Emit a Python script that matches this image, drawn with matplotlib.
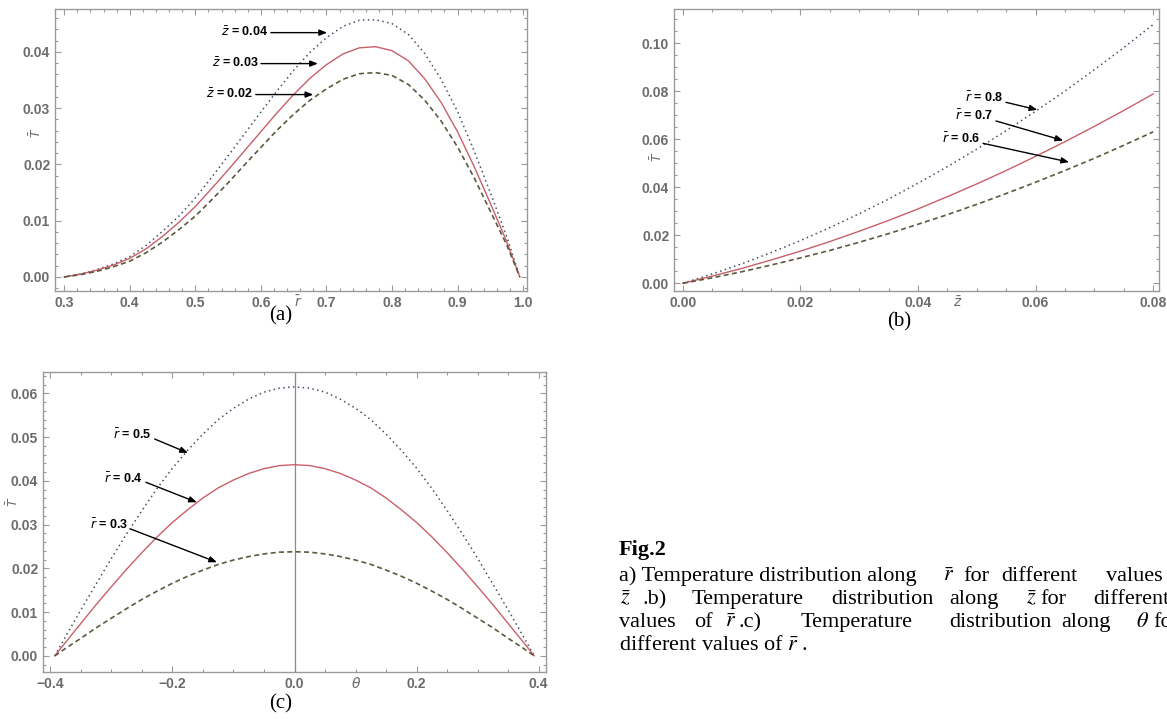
import matplotlib
matplotlib.use('Agg')
import matplotlib.pyplot as plt
from matplotlib.ticker import AutoMinorLocator, MultipleLocator

# ---- datos ----
# (a) T vs r para distintos z
r_a = [0.300, 0.325, 0.350, 0.375, 0.400, 0.425, 0.450, 0.475, 0.500, 0.525, 0.550, 0.575,
       0.600, 0.625, 0.650, 0.675, 0.700, 0.725, 0.750, 0.775, 0.800, 0.825, 0.850, 0.875,
       0.900, 0.925, 0.950, 0.975, 0.995]
T_z004 = [0.0, 0.0005, 0.0013, 0.0023, 0.0036, 0.0056, 0.0081, 0.0108, 0.0140, 0.0177, 0.0215, 0.0254,
          0.0293, 0.0331, 0.0367, 0.0399, 0.0425, 0.0445, 0.0456, 0.0457, 0.0450, 0.0431, 0.0397, 0.0351,
          0.0294, 0.0225, 0.0150, 0.0072, 0.0]
T_z003 = [0.0, 0.0005, 0.0012, 0.0021, 0.0033, 0.0050, 0.0072, 0.0097, 0.0125, 0.0157, 0.0190, 0.0224,
          0.0258, 0.0292, 0.0324, 0.0353, 0.0377, 0.0396, 0.0407, 0.0409, 0.0402, 0.0384, 0.0352, 0.0310,
          0.0258, 0.0197, 0.0131, 0.0063, 0.0]
T_z002 = [0.0, 0.0004, 0.0010, 0.0018, 0.0028, 0.0043, 0.0062, 0.0084, 0.0108, 0.0137, 0.0167, 0.0199,
          0.0230, 0.0261, 0.0289, 0.0314, 0.0334, 0.0351, 0.0361, 0.0363, 0.0358, 0.0342, 0.0314, 0.0277,
          0.0231, 0.0177, 0.0117, 0.0057, 0.0]

# (b) T vs z para distintos r
z_b = [0.0, 0.005, 0.01, 0.015, 0.02, 0.025, 0.03, 0.035, 0.04, 0.045, 0.05, 0.055,
       0.06, 0.065, 0.07, 0.075, 0.08]
T_r08 = [0.0, 0.0039, 0.0081, 0.0128, 0.0178, 0.0232, 0.0290, 0.0351, 0.0417, 0.0486, 0.0559, 0.0636,
         0.0717, 0.0801, 0.0890, 0.0982, 0.1078]
T_r07 = [0.0, 0.0030, 0.0062, 0.0097, 0.0134, 0.0174, 0.0217, 0.0262, 0.0310, 0.0361, 0.0414, 0.0470,
         0.0529, 0.0590, 0.0654, 0.0720, 0.0789]
T_r06 = [0.0, 0.0023, 0.0048, 0.0076, 0.0106, 0.0137, 0.0171, 0.0207, 0.0246, 0.0286, 0.0329, 0.0374,
         0.0421, 0.0470, 0.0521, 0.0575, 0.0631]

# (c) T vs theta para distintos r
th_c = [-0.3927, -0.375, -0.35, -0.325, -0.30, -0.275, -0.25, -0.225, -0.20, -0.175, -0.15,
        -0.125, -0.10, -0.075, -0.05, -0.025, 0.0, 0.025, 0.05, 0.075, 0.10, 0.125, 0.15,
        0.175, 0.20, 0.225, 0.25, 0.275, 0.30, 0.325, 0.35, 0.375, 0.3927]
T_r05 = [0.0, 0.0044, 0.0105, 0.0164, 0.0223, 0.0279, 0.0332, 0.0383, 0.0429, 0.0470, 0.0507,
         0.0540, 0.0566, 0.0587, 0.0603, 0.0612, 0.0615, 0.0612, 0.0603, 0.0587, 0.0566, 0.0540, 0.0507,
         0.0470, 0.0429, 0.0383, 0.0332, 0.0279, 0.0223, 0.0164, 0.0105, 0.0044, 0.0]
T_r04 = [0.0, 0.0031, 0.0074, 0.0117, 0.0158, 0.0198, 0.0236, 0.0272, 0.0305, 0.0334, 0.0361,
         0.0384, 0.0402, 0.0417, 0.0428, 0.0435, 0.0437, 0.0435, 0.0428, 0.0417, 0.0402, 0.0384, 0.0361,
         0.0334, 0.0305, 0.0272, 0.0236, 0.0198, 0.0158, 0.0117, 0.0074, 0.0031, 0.0]
T_r03 = [0.0, 0.0017, 0.0040, 0.0064, 0.0086, 0.0108, 0.0129, 0.0148, 0.0166, 0.0182, 0.0196,
         0.0209, 0.0219, 0.0227, 0.0233, 0.0237, 0.0238, 0.0237, 0.0233, 0.0227, 0.0219, 0.0209, 0.0196,
         0.0182, 0.0166, 0.0148, 0.0129, 0.0108, 0.0086, 0.0064, 0.0040, 0.0017, 0.0]

W, H = 1167, 719
fig = plt.figure(figsize=(W / 100, H / 100), dpi=100)

c_dot = '#46506a'
c_sol = '#c8606a'
c_dash = '#5c5a3e'
c_frame = '#9a9a9a'
c_lab = '#6b6b6b'


def caja(x0, y0, x1, y1):
    # pixeles -> fraccion de figura
    return [x0 / W, 1 - y1 / H, (x1 - x0) / W, (y1 - y0) / H]


def px(x, y):
    return x / W, 1 - y / H


def estilo(ax, xmaj, xmin_n, ymaj, ymin_n, xfmt, yfmt):
    for s in ax.spines.values():
        s.set_color(c_frame)
        s.set_linewidth(1.0)
    ax.xaxis.set_major_locator(MultipleLocator(xmaj))
    ax.yaxis.set_major_locator(MultipleLocator(ymaj))
    ax.xaxis.set_minor_locator(AutoMinorLocator(xmin_n))
    ax.yaxis.set_minor_locator(AutoMinorLocator(ymin_n))
    ax.tick_params(which='both', direction='in', top=True, right=True, color=c_frame, width=0.8)
    ax.tick_params(which='major', length=4.5, pad=3.5)
    ax.tick_params(which='minor', length=2.5)
    ax.xaxis.set_major_formatter(plt.FuncFormatter(lambda v, p: xfmt.format(v + 0.0).replace('-', '\u2212')))
    ax.yaxis.set_major_formatter(plt.FuncFormatter(lambda v, p: yfmt.format(v + 0.0)))
    for lab in ax.get_xticklabels() + ax.get_yticklabels():
        lab.set_fontfamily('Liberation Sans')
        lab.set_fontweight('bold')
        lab.set_fontsize(10)
        lab.set_color(c_lab)


def tres_curvas(ax, x, y1, y2, y3):
    ax.plot(x, y1, color=c_dot, lw=1.1, linestyle=(0, (1, 2.2)))
    ax.plot(x, y2, color=c_sol, lw=1.0)
    ax.plot(x, y3, color=c_dash, lw=1.2, linestyle=(0, (3, 2)))


def flecha(ax, txt, tip, pos, rel=(1, 0.5)):
    ax.annotate(txt, xy=tip, xytext=pos, ha='right', va='center',
                fontsize=9, fontweight='bold', family='Liberation Sans', math_fontfamily='dejavusans',
                arrowprops=dict(arrowstyle='-|>,head_length=0.5,head_width=0.2', color='black',
                                lw=1.0, shrinkA=0, shrinkB=0, relpos=rel))


def etiquetas(ax, xl, xpos, ypos):
    ax.text(xpos[0], xpos[1], xl, transform=ax.transAxes, ha='center', va='center',
            fontsize=10, color=c_lab, math_fontfamily='dejavusans')
    ax.text(ypos[0], ypos[1], r'$\bar{T}$', transform=ax.transAxes, ha='center', va='center',
            fontsize=9, color=c_lab, rotation=90, math_fontfamily='dejavusans')


# ---- (a) ----
ax1 = fig.add_axes(caja(55, 9, 527, 291))
tres_curvas(ax1, r_a, T_z004, T_z003, T_z002)
ax1.set_xlim(0.286, 1.006)
ax1.set_ylim(-0.0025, 0.0476)
estilo(ax1, 0.1, 5, 0.01, 5, '{:.1f}', '{:.2f}')
flecha(ax1, r'$\bar{z}$ = 0.04', (0.701, 0.0434), (0.611, 0.0434))
flecha(ax1, r'$\bar{z}$ = 0.03', (0.687, 0.0379), (0.596, 0.0379))
flecha(ax1, r'$\bar{z}$ = 0.02', (0.680, 0.0324), (0.588, 0.0324))
etiquetas(ax1, r'$\bar{r}$', (0.515, -0.04), (-0.040, 0.56))

# ---- (b) ----
ax2 = fig.add_axes(caja(674, 9, 1159, 291))
tres_curvas(ax2, z_b, T_r08, T_r07, T_r06)
ax2.set_xlim(-0.0015, 0.081)
ax2.set_ylim(-0.0032, 0.1143)
estilo(ax2, 0.02, 4, 0.02, 4, '{:.2f}', '{:.2f}')
flecha(ax2, r'$\bar{r}$ = 0.8', (0.0603, 0.0723), (0.0545, 0.0775), rel=(1, 0.2))
flecha(ax2, r'$\bar{r}$ = 0.7', (0.0647, 0.0595), (0.0528, 0.0698), rel=(1, 0.2))
flecha(ax2, r'$\bar{r}$ = 0.6', (0.0657, 0.0505), (0.0506, 0.0604), rel=(1, 0.2))
etiquetas(ax2, r'$\bar{z}$', (0.585, -0.04), (-0.035, 0.475))

# ---- (c) ----
ax3 = fig.add_axes(caja(43, 372, 546, 672))
ax3.axvline(0, color='#888888', lw=0.9)
tres_curvas(ax3, th_c, T_r05, T_r04, T_r03)
ax3.set_xlim(-0.412, 0.412)
ax3.set_ylim(-0.0037, 0.0649)
estilo(ax3, 0.2, 4, 0.01, 5, '{:.1f}', '{:.2f}')
flecha(ax3, r'$\bar{r}$ = 0.5', (-0.1746, 0.0464), (-0.2336, 0.0505), rel=(1, 0.3))
flecha(ax3, r'$\bar{r}$ = 0.4', (-0.160, 0.0351), (-0.248, 0.0406), rel=(1, 0.3))
flecha(ax3, r'$\bar{r}$ = 0.3', (-0.127, 0.0214), (-0.273, 0.0299), rel=(1, 0.3))
etiquetas(ax3, r'$\theta$', (0.622, -0.04), (-0.060, 0.567))

# ---- rotulos (a) (b) (c) ----
serif = dict(family='Liberation Serif', math_fontfamily='stix', color='black')
fig.text(*px(281, 316), '(a)', ha='center', va='center', fontsize=15, **serif)
fig.text(*px(899, 322), '(b)', ha='center', va='center', fontsize=15, **serif)
fig.text(*px(281, 704), '(c)', ha='center', va='center', fontsize=15, **serif)

# ---- leyenda de la figura (lineas justificadas, cortadas en el borde derecho) ----
fs = 16
fig.text(*px(619, 555), 'Fig.2', ha='left', va='baseline', fontsize=fs, fontweight='bold', **serif)

linea1 = [('a) Temperature distribution along', 619), (r'$\bar{r}$', 943), ('for', 963),
          ('different', 1001), ('values', 1106), ('of', 1172)]
for w, x in linea1:
    fig.text(*px(x, 581), w, ha='left', va='baseline', fontsize=fs, **serif)

linea2 = [(r'$\bar{z}$', 620), ('.b)', 643), ('Temperature', 692), ('distribution', 831),
          ('along', 949), (r'$\bar{z}$', 1026), ('for', 1040), ('different', 1093)]
for w, x in linea2:
    fig.text(*px(x, 604), w, ha='left', va='baseline', fontsize=fs, **serif)

linea3 = [('values', 619), ('of', 694), (r'$\bar{r}$', 725), ('.c)', 739), ('Temperature', 801),
          ('distribution', 949), ('along', 1061), (r'$\theta$', 1136), ('for', 1153)]
for w, x in linea3:
    fig.text(*px(x, 627), w, ha='left', va='baseline', fontsize=fs, **serif)

fig.text(*px(619, 650), r'different values of $\bar{r}$ .', ha='left', va='baseline', fontsize=fs, **serif)

plt.savefig('out.png', dpi=100)
